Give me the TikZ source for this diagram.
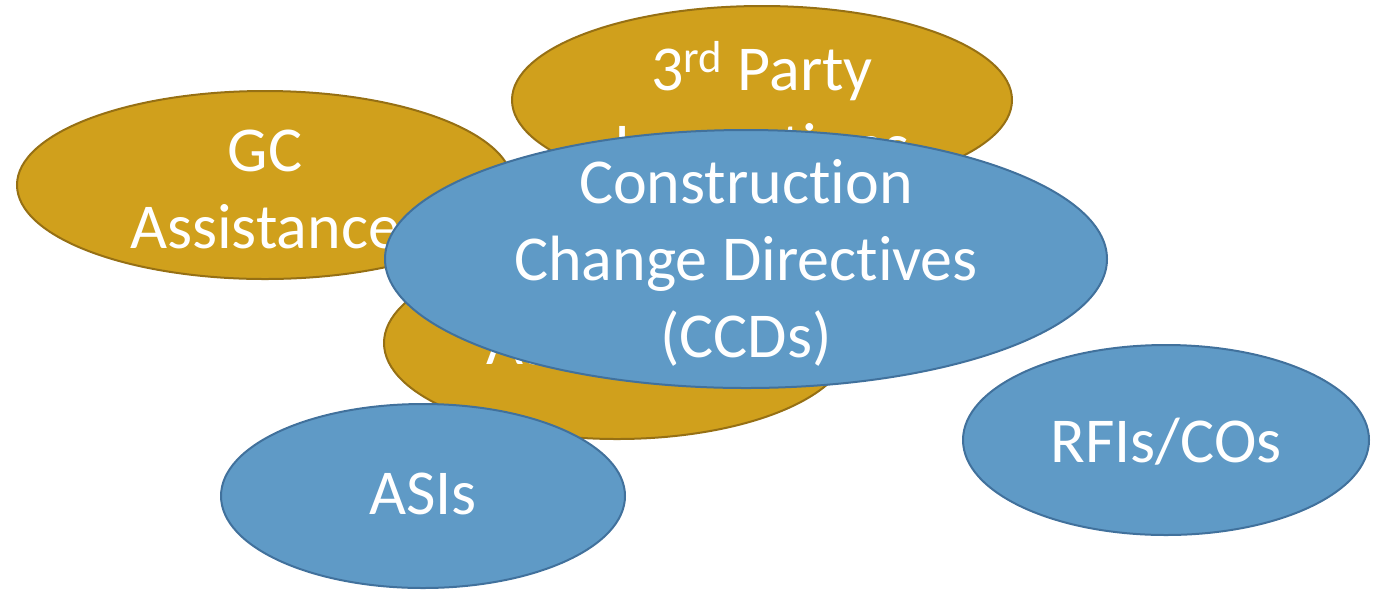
\documentclass[tikz,border=0pt]{standalone}
\usepackage{fontspec}
\setmainfont{Carlito}[Ligatures={NoCommon}]
\usetikzlibrary{shapes.geometric}
\definecolor{gold}{RGB}{208,160,28}
\definecolor{goldline}{RGB}{150,112,20}
\definecolor{blueF}{RGB}{95,154,198}
\definecolor{blueline}{RGB}{65,113,156}
\tikzset{
  goldell/.style={ellipse, draw=goldline, fill=gold, line width=1pt, inner sep=0pt},
  blueell/.style={ellipse, draw=blueline, fill=blueF, line width=1pt, inner sep=0pt},
  lbl/.style={text=white, align=center, inner sep=0pt, font=\fontsize{32pt}{38.5pt}\selectfont}
}
\begin{document}
\begin{tikzpicture}[x=0.5pt,y=-0.5pt]
\useasboundingbox (0,0) rectangle (1376,591);
% gold
\node[goldell, minimum width=496pt*0.5, minimum height=188pt*0.5] (gc) at (265,185) {};
\node[lbl] (gct) at (265,189) {GC\\Assistance};
\node[goldell, minimum width=500pt*0.5, minimum height=188pt*0.5] (tp) at (762,100) {};
\node[lbl] (tpt) at (762,110) {3\textsuperscript{rd} Party\\Inspections};
\node[goldell, minimum width=466pt*0.5, minimum height=192pt*0.5] (ar) at (617,343) {};
\node[lbl, anchor=base west] (art) at (486,364) {Assistance};
% blue
\node[blueell, minimum width=722pt*0.5, minimum height=258pt*0.5] (ccd) at (746,259) {};
\node[lbl] (ccdt) at (746,263) {Construction\\Change Directives\\(CCDs)};
\node[blueell, minimum width=404pt*0.5, minimum height=184pt*0.5] (asi) at (423,496) {};
\node[lbl] (asit) at (423,494) {ASIs};
\node[blueell, minimum width=406pt*0.5, minimum height=190pt*0.5] (rfi) at (1166,440) {};
\node[lbl] (rfit) at (1166,442) {RFIs/COs};
\end{tikzpicture}
\end{document}
